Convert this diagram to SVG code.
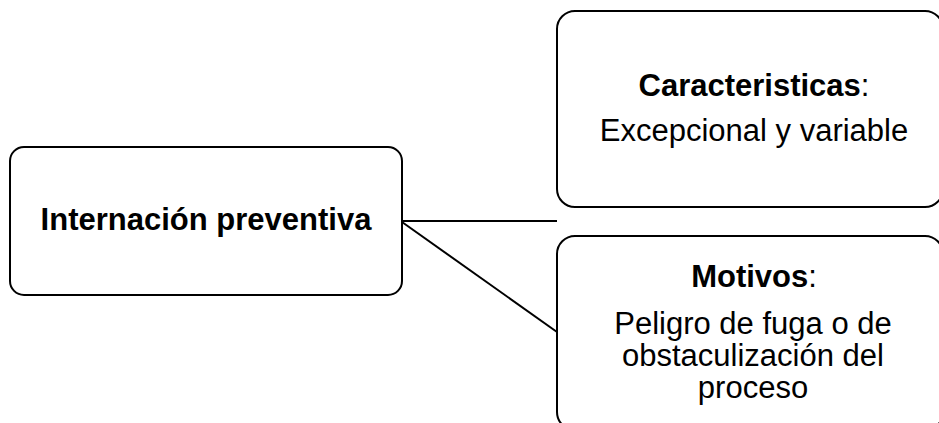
<svg xmlns="http://www.w3.org/2000/svg" width="939" height="423" viewBox="0 0 939 423">
<style>
.box{fill:#fff;stroke:#000;stroke-width:2}
.t{font-family:"Liberation Sans",Arial,sans-serif;font-size:31px;fill:#000;text-anchor:middle}
.b{font-weight:bold}
.c{stroke:#000;stroke-width:2;fill:none}
</style>
<rect width="939" height="423" fill="#fff"/>
<g id="connectors">
<line class="c" x1="402" y1="221" x2="557" y2="221"/>
<line class="c" x1="402" y1="222" x2="557" y2="332"/>
</g>
<g id="node-internacion">
<rect class="box" x="10" y="147" width="392" height="148" rx="14"/>
<text class="t b" x="206" y="230">Internación preventiva</text>
</g>
<g id="node-caracteristicas">
<rect class="box" x="557" y="11" width="386" height="196" rx="18"/>
<text class="t" x="754" y="96"><tspan class="b">Caracteristicas</tspan>:</text>
<text class="t" x="754" y="141">Excepcional y variable</text>
</g>
<g id="node-motivos">
<rect class="box" x="557" y="236" width="386" height="194" rx="18"/>
<text class="t" x="754" y="287"><tspan class="b">Motivos</tspan>:</text>
<text class="t" x="753" y="334">Peligro de fuga o de</text>
<text class="t" x="753" y="366">obstaculización del</text>
<text class="t" x="753" y="398">proceso</text>
</g>
</svg>
